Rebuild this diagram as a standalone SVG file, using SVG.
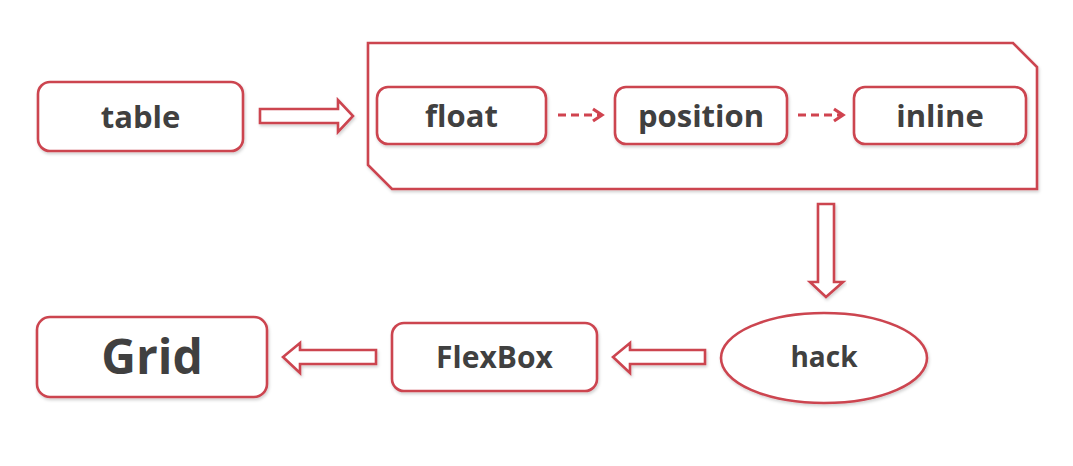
<svg xmlns="http://www.w3.org/2000/svg" width="1073" height="466" viewBox="0 0 1073 466">
  <defs>
    <filter id="sh" x="-10%" y="-10%" width="120%" height="130%">
      <feDropShadow dx="1" dy="2" stdDeviation="1.5" flood-color="#000" flood-opacity="0.18"/>
    </filter>
    <marker id="ah" markerWidth="14" markerHeight="16" refX="11" refY="8" orient="auto" markerUnits="userSpaceOnUse">
      <path d="M2,2 L11,8 L2,14" fill="none" stroke="#d0434f" stroke-width="3.2" stroke-linejoin="miter"/>
    </marker>
  </defs>
  <style>
    .box { fill: #fff; stroke: #cc4450; stroke-width: 2.6; filter: url(#sh); }
    .arrow { fill: #fff; stroke: #cc4450; stroke-width: 2.6; stroke-linejoin: miter; filter: url(#sh); }
    .dash { fill: none; stroke: #d0434f; stroke-width: 3.2; stroke-dasharray: 8 5; }
    .lbl { font-family: "Open Sans", "Noto Sans", "DejaVu Sans", sans-serif; font-weight: 700; fill: #404040; text-anchor: middle; }
  </style>
  <rect width="1073" height="466" fill="#fff"/>

  <g id="container">
    <path class="box" d="M368,43 L1013,43 L1037,67 L1037,189 L392,189 L368,165 Z"/>
  </g>

  <g id="connectors">
    <path class="arrow" d="M260,109 L338,109 L338,100 L353,116 L338,132 L338,123 L260,123 Z"/>
    <path class="dash" d="M558,115 L602,115" marker-end="url(#ah)"/>
    <path class="dash" d="M798,115 L843,115" marker-end="url(#ah)"/>
    <path class="arrow" d="M818,204 L834,204 L834,282 L843,282 L826,297 L810,282 L818,282 Z"/>
    <path class="arrow" d="M705,350 L630,350 L630,343 L613,357 L630,373 L630,364 L705,364 Z"/>
    <path class="arrow" d="M376,350 L300,350 L300,343 L283,357 L300,373 L300,364 L376,364 Z"/>
  </g>

  <g id="table">
    <rect class="box" x="38" y="82" width="205" height="69" rx="12"/>
    <text class="lbl" x="140.5" y="128" font-size="31">table</text>
  </g>
  <g id="float">
    <rect class="box" x="377" y="87" width="169" height="57" rx="11"/>
    <text class="lbl" x="461.5" y="127" font-size="31">float</text>
  </g>
  <g id="position">
    <rect class="box" x="615" y="87" width="172" height="57" rx="11"/>
    <text class="lbl" x="701" y="127" font-size="31">position</text>
  </g>
  <g id="inline">
    <rect class="box" x="854" y="87" width="172" height="57" rx="11"/>
    <text class="lbl" x="940" y="127" font-size="31">inline</text>
  </g>
  <g id="hack">
    <ellipse class="box" cx="824" cy="358" rx="103" ry="45"/>
    <text class="lbl" x="824" y="367" font-size="28">hack</text>
  </g>
  <g id="flexbox">
    <rect class="box" x="392" y="323" width="205" height="68" rx="12"/>
    <text class="lbl" x="494.5" y="368" font-size="30">FlexBox</text>
  </g>
  <g id="grid">
    <rect class="box" x="37" y="317" width="230" height="80" rx="13"/>
    <text class="lbl" x="152" y="374" font-size="48">Grid</text>
  </g>
</svg>
